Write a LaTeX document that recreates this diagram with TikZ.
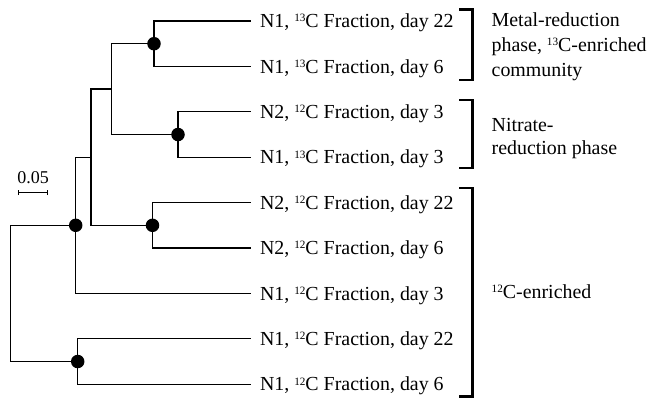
\documentclass[tikz,border=0pt]{standalone}
\usepackage{fontspec}
\setmainfont{Liberation Serif}
\newcommand\iso[1]{\raisebox{5.8bp}{\fontsize{11.2bp}{12bp}\selectfont #1}}
\begin{document}
\begin{tikzpicture}[x=1bp,y=-1bp,
  branch/.style={line width=1.3bp, line cap=rect},
  dotnode/.style={circle, fill=black, inner sep=0pt, minimum size=13.5bp},
  leaflab/.style={anchor=base west, inner sep=0pt, font=\fontsize{19.9bp}{23bp}\selectfont},
  grplab/.style={anchor=base west, inner sep=0pt, font=\fontsize{19.9bp}{23bp}\selectfont},
  brk/.style={line width=2.4bp},
  scalelab/.style={inner sep=0pt, anchor=base, font=\fontsize{18bp}{20bp}\selectfont}]
\useasboundingbox (0,0) rectangle (649,398);
% leaf tips
\foreach \i/\y in {1/21,2/66.4,3/111.8,4/157.2,5/202.6,6/248,7/293.4,8/338.8,9/384.2}{
  \coordinate (t\i) at (250.7,\y);
}
% labels
\node[leaflab] (n1) at (259.8,27.6) {N1, \iso{13}C Fraction, day 22};
\node[leaflab] (n2) at (259.8,73) {N1, \iso{13}C Fraction, day 6};
\node[leaflab] (n3) at (259.8,118.4) {N2, \iso{12}C Fraction, day 3};
\node[leaflab] (n4) at (259.8,163.8) {N1, \iso{13}C Fraction, day 3};
\node[leaflab] (n5) at (259.8,209.2) {N2, \iso{12}C Fraction, day 22};
\node[leaflab] (n6) at (259.8,254.6) {N2, \iso{12}C Fraction, day 6};
\node[leaflab] (n7) at (259.8,300) {N1, \iso{12}C Fraction, day 3};
\node[leaflab] (n8) at (259.8,345.4) {N1, \iso{12}C Fraction, day 22};
\node[leaflab] (n9) at (259.8,390.8) {N1, \iso{12}C Fraction, day 6};
% internal nodes
\coordinate (A) at (154,43.7);
\coordinate (B) at (178,134.5);
\coordinate (C) at (111.7,89.1);
\coordinate (D) at (152.5,225.3);
\coordinate (E) at (91,157.2);
\coordinate (F) at (75.7,225.3);
\coordinate (G) at (77.7,361.5);
\coordinate (R) at (10.3,293.4);
\draw[branch] (t1) -| (A) |- (t2);
\draw[branch] (t3) -| (B) |- (t4);
\draw[branch] (A) -| (C) |- (B);
\draw[branch] (t5) -| (D) |- (t6);
\draw[branch] (C) -| (E) |- (D);
\draw[branch] (E) -| (F) |- (t7);
\draw[branch] (t8) -| (G) |- (t9);
\draw[branch] (F) -| (R) |- (G);
\foreach \n in {A,B,D,F,G}{ \node[dotnode] at (\n) {}; }
% scale bar
\node[scalelab] (sl) at (33,183) {0.05};
\coordinate (s1) at (18.3,192.5);
\coordinate (s2) at (47.7,192.5);
\draw[line width=1.2bp] (s1) -- (s2);
\draw[line width=1.2bp] ([yshift=-2.5bp]s1) -- ([yshift=2.5bp]s1);
\draw[line width=1.2bp] ([yshift=-2.5bp]s2) -- ([yshift=2.5bp]s2);
% brackets
\draw[brk] (459,9.3) -| (472.5,80) -- (459,80);
\draw[brk] (459,100) -| (472.5,168) -- (459,168);
\draw[brk] (459,188) -| (472.5,396.5) -- (459,396.5);
% group labels
\node[grplab] (g1a) at (491.5,26.7) {Metal-reduction};
\node[grplab] (g1b) at (491.5,51.7) {phase, \iso{13}C-enriched};
\node[grplab] (g1c) at (491.5,76) {community};
\node[grplab] (g2a) at (491.5,131.7) {Nitrate-};
\node[grplab] (g2b) at (491.5,154) {reduction phase};
\node[grplab] (g3) at (491.5,298) {\iso{12}C-enriched};
\end{tikzpicture}
\end{document}
